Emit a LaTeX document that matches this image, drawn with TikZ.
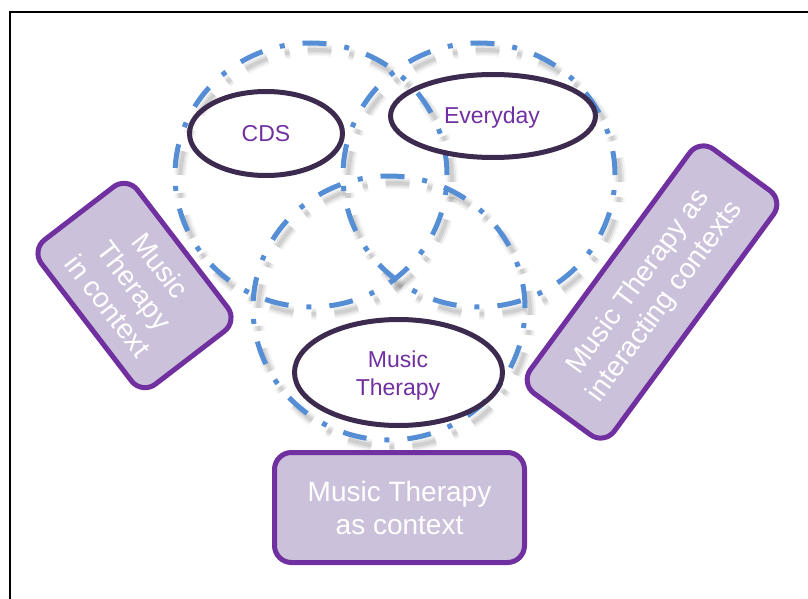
\documentclass[tikz,border=0pt]{standalone}
\usepackage{fontspec}
\setmainfont{Liberation Sans}
\usetikzlibrary{shapes.geometric}
\definecolor{vennblue}{HTML}{558ED5}
\definecolor{ellline}{HTML}{3D2B4F}
\definecolor{purpletext}{HTML}{7030A0}
\definecolor{boxfill}{HTML}{CCC1DA}
\definecolor{boxline}{HTML}{7030A0}
\tikzset{
  dashdotpat/.style={dash pattern=on 24pt off 18pt on 5pt off 18pt},
  vennshape/.style={ellipse, inner sep=0pt, outer sep=0pt, minimum width=272pt, minimum height=264pt, dashdotpat},
  venn/.style={vennshape, draw=vennblue, line width=5pt},
  vshadowa/.style={vennshape, draw=black, line width=12pt, draw opacity=0.045},
  vshadowb/.style={vennshape, draw=black, line width=8pt, draw opacity=0.07},
  vshadowc/.style={vennshape, draw=black, line width=4pt, draw opacity=0.09},
  inner/.style={draw=ellline, line width=5pt, ellipse, inner sep=0pt},
  lbl/.style={text=purpletext, font=\fontsize{23}{28}\selectfont, align=center, inner sep=0pt},
  mtbox/.style={draw=boxline, fill=boxfill, line width=5pt, rounded corners=17pt,
    text=white, font=\fontsize{28}{33}\selectfont, align=center, inner sep=0pt},
}
\begin{document}
\begin{tikzpicture}[x=1pt,y=-1pt]
\useasboundingbox (0,0) rectangle (808,599);
% frame
\coordinate (f1) at (10,605);
\coordinate (f2) at (10,12);
\coordinate (f3) at (815,12);
\draw[line width=2pt] (f1) -- (f2) -- (f3);
% shadows of the dash-dot circles
\foreach \n/\cx/\cy in {1/311/175, 2/479/175, 3/389/308}{
  \node[vshadowa] (sa\n) at (\cx+5,\cy+7) {};
  \node[vshadowb] (sb\n) at (\cx+5,\cy+7) {};
  \node[vshadowc] (sc\n) at (\cx+5,\cy+7) {};
}
% circles
\node[venn] (c1) at (311,175) {};
\node[venn] (c2) at (479,175) {};
\node[venn] (c3) at (389,308) {};
% inner ellipses
\node[inner, minimum width=153pt, minimum height=84pt] (cds) at (266,133.5) {};
\node[inner, minimum width=205pt, minimum height=83pt] (eve) at (493,116) {};
\node[inner, minimum width=208pt, minimum height=106pt] (mt) at (398.5,372.5) {};
\node[lbl, anchor=base] (cdsl) at (266,142) {CDS};
\node[lbl, anchor=base] (evel) at (492,124) {Everyday};
\node[lbl] (mtl) at (398,376) {Music\\Therapy};
% boxes
\node[mtbox, minimum width=250pt, minimum height=110pt] (ctx) at (399.5,507.5) {Music Therapy\\as context};
\node[mtbox, minimum width=182pt, minimum height=121pt, rotate=-52.5] (inctx) at (134.5,285.5) {Music\\Therapy\\in context};
\node[mtbox, minimum width=303pt, minimum height=104pt, rotate=53.7] (inter) at (652,292) {Music Therapy as\\interacting contexts};
\end{tikzpicture}
\end{document}
